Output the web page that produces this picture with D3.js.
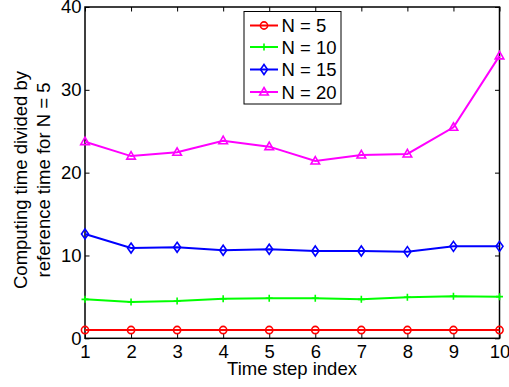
<!DOCTYPE html>
<html lang="en">
<head>
<meta charset="utf-8">
<title>Computing time ratio</title>
<script src="https://cdnjs.cloudflare.com/ajax/libs/d3/7.0.0/d3.min.js"></script>
<style type="text/css">
  body { margin: 0; background: #fff; }
  text { font-family: "Liberation Sans", Arial, Helvetica, sans-serif; fill: #000; }
</style>
</head>
<body>
<script type="text/javascript">
// time step index
const steps = [1, 2, 3, 4, 5, 6, 7, 8, 9, 10];
// computing time / reference time for N = 5
const n5  = [1, 1, 1, 1, 1, 1, 1, 1, 1, 1];
const n10 = [4.7, 4.38, 4.5, 4.78, 4.83, 4.83, 4.7, 4.95, 5.07, 5.03];
const n15 = [12.6, 10.9, 10.99, 10.63, 10.75, 10.54, 10.54, 10.46, 11.1, 11.1];
const n20 = [23.74, 22.0, 22.46, 23.86, 23.14, 21.4, 22.14, 22.26, 25.48, 34.1];
const seriesNames = ["N = 5", "N = 10", "N = 15", "N = 20"];
const seriesColors = ["#ff0000", "#00ff00", "#0000ff", "#ff00ff"];
const seriesMarkers = ["circle", "plus", "diamond", "triangle"];
const xTicks = [1, 2, 3, 4, 5, 6, 7, 8, 9, 10];
const yTicks = [0, 10, 20, 30, 40];

const w = 509, h = 387;
const axLeft = 85, axRight = 499.5, axTop = 7, axBottom = 338.3;
const fs = "18.5px";

const svg = d3.select("body").append("svg")
  .attr("width", w).attr("height", h);

const xScale = d3.scaleLinear().domain([1, 10]).range([axLeft, axRight]);
const yScale = d3.scaleLinear().domain([0, 40]).range([axBottom, axTop]);

// axes with inward ticks on all four sides
const tl = 4.5;
svg.append("g").attr("transform", "translate(0," + axBottom + ")")
  .call(d3.axisBottom(xScale).tickValues(xTicks).tickSizeInner(-tl).tickSizeOuter(0).tickPadding(7))
  .call(g => g.selectAll("text").attr("font-size", fs).attr("dy", "0.71em"));
svg.append("g").attr("transform", "translate(0," + axTop + ")")
  .call(d3.axisTop(xScale).tickValues(xTicks).tickSizeInner(-tl).tickSizeOuter(0).tickFormat(""));
svg.append("g").attr("transform", "translate(" + axLeft + ",0)")
  .call(d3.axisLeft(yScale).tickValues(yTicks).tickSizeInner(-tl).tickSizeOuter(0).tickPadding(3.5))
  .call(g => g.selectAll("text").attr("font-size", fs));
svg.append("g").attr("transform", "translate(" + axRight + ",0)")
  .call(d3.axisRight(yScale).tickValues(yTicks).tickSizeInner(-tl).tickSizeOuter(0).tickFormat(""));
svg.selectAll(".domain").remove();
svg.selectAll(".tick line").attr("stroke", "#000").attr("stroke-width", 1);

svg.append("rect")
  .attr("x", axLeft).attr("y", axTop)
  .attr("width", axRight - axLeft).attr("height", axBottom - axTop)
  .attr("fill", "none").attr("stroke", "#000").attr("stroke-width", 1.5);

// markers
function drawMarker(g, type, color) {
  if (type === "circle") {
    g.append("circle").attr("r", 3.6).attr("fill", "none").attr("stroke", color).attr("stroke-width", 1.6);
  } else if (type === "plus") {
    g.append("path").attr("d", "M-3.5,0H3.5M0,-3.5V3.5").attr("stroke", color).attr("stroke-width", 1.6);
  } else if (type === "diamond") {
    g.append("path").attr("d", "M0,-5L3.5,0L0,5L-3.5,0Z").attr("fill", "none").attr("stroke", color).attr("stroke-width", 1.6);
  } else {
    g.append("path").attr("d", "M0,-4.5L4.3,3L-4.3,3Z").attr("fill", "none").attr("stroke", color).attr("stroke-width", 1.6);
  }
}

const allSeries = [n5, n10, n15, n20];
const line = d3.line().x((d, i) => xScale(steps[i])).y(d => yScale(d));

allSeries.forEach((vals, k) => {
  svg.append("path").datum(vals)
    .attr("d", line)
    .attr("fill", "none")
    .attr("stroke", seriesColors[k])
    .attr("stroke-width", 2);
  vals.forEach((v, i) => {
    const g = svg.append("g").attr("transform", "translate(" + xScale(steps[i]) + "," + yScale(v) + ")");
    drawMarker(g, seriesMarkers[k], seriesColors[k]);
  });
});

// legend
const lg = svg.append("g");
lg.append("rect").attr("x", 244).attr("y", 11.5).attr("width", 97).attr("height", 92.5)
  .attr("fill", "#fff").attr("stroke", "#000").attr("stroke-width", 1);
const legendY = [25.5, 47, 69.5, 92];
seriesNames.forEach((name, k) => {
  const y = legendY[k];
  lg.append("line").attr("x1", 250).attr("x2", 278).attr("y1", y).attr("y2", y)
    .attr("stroke", seriesColors[k]).attr("stroke-width", 2);
  drawMarker(lg.append("g").attr("transform", "translate(264," + y + ")"), seriesMarkers[k], seriesColors[k]);
  lg.append("text").attr("x", 281.5).attr("y", y).attr("dy", "0.36em")
    .attr("font-size", fs).text(name);
});

// axis labels
svg.append("text").attr("x", 292).attr("y", 375)
  .attr("text-anchor", "middle").attr("font-size", fs).text("Time step index");
const ylab = svg.append("text").attr("transform", "translate(0,180) rotate(-90)")
  .attr("text-anchor", "middle").attr("font-size", fs);
ylab.append("tspan").attr("x", 0).attr("y", 26.5).text("Computing time divided by");
ylab.append("tspan").attr("x", 0).attr("y", 49.5).text("reference time for N = 5");
</script>
</body>
</html>
